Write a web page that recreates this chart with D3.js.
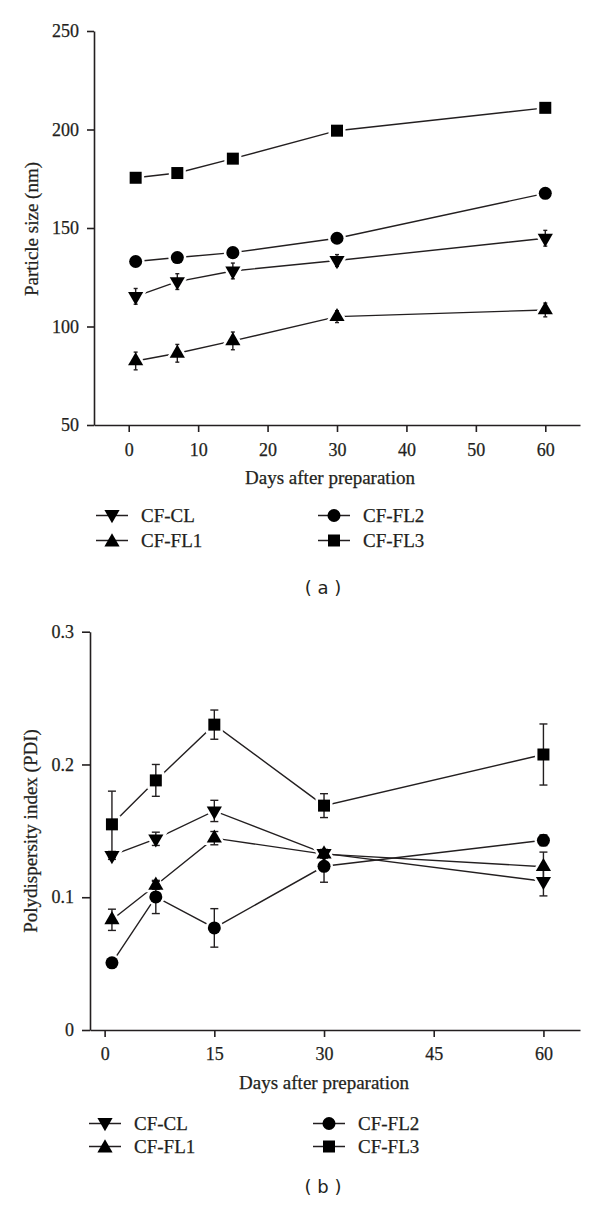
<!DOCTYPE html>
<html>
<head>
<meta charset="utf-8">
<script src="https://cdn.jsdelivr.net/npm/d3@7/dist/d3.min.js"></script>
<style>
  html, body { margin: 0; padding: 0; background: #fff; }
  svg { display: block; }
  .serif { font-family: "Liberation Serif", "Times New Roman", serif; fill: #231f20; stroke: #231f20; stroke-width: 0.25px; }
</style>
</head>
<body>
<svg id="chart" width="600" height="1208"></svg>
<script>
// ---------- DATA ----------
const days = [1, 7, 15, 30, 60];
const seriesNames = ["CF-CL", "CF-FL1", "CF-FL2", "CF-FL3"];

// Panel (a): particle size (nm)
const sizeCL  = [115.3, 122.8, 128.2, 133.5, 144.8];
const sizeFL1 = [82.5, 86.4, 92.7, 105.0, 108.4];
const sizeFL2 = [133, 135, 137.5, 144.8, 167.6];
const sizeFL3 = [175.5, 177.9, 185.2, 199.4, 211];
const sizeErrCL  = [4, 4, 4, 3, 4];
const sizeErrFL1 = [4.5, 4.5, 4.5, 3, 3.5];
const sizeErrFL2 = [1.5, 1.5, 1.5, 1.5, 1.5];
const sizeErrFL3 = [1.5, 1.5, 1.5, 1.5, 1.5];
const sizeTicksX = [0, 10, 20, 30, 40, 50, 60];
const sizeTicksY = [50, 100, 150, 200, 250];

// Panel (b): polydispersity index
const pdiCL  = [0.1315, 0.1440, 0.1650, 0.1330, 0.1120];
const pdiFL1 = [0.0830, 0.1090, 0.1445, 0.1325, 0.1230];
const pdiFL2 = [0.0506, 0.1002, 0.0769, 0.1233, 0.1429];
const pdiFL3 = [0.1549, 0.1880, 0.2300, 0.1690, 0.2075];
const pdiErrCL  = [0.003, 0.005, 0.008, 0.003, 0.011];
const pdiErrFL1 = [0.008, 0.003, 0.005, 0.003, 0.011];
const pdiErrFL2 = [0.001, 0.0125, 0.0145, 0.012, 0.004];
const pdiErrFL3 = [0.025, 0.012, 0.011, 0.009, 0.023];
const pdiTicksX = [0, 15, 30, 45, 60];
const pdiTicksY = [0, 0.1, 0.2, 0.3];

// ---------- DRAWING ----------
const svg = d3.select("#chart");
const SERIF = '"Liberation Serif", "Times New Roman", serif';

const symbolSpecs = {
  "CF-CL":  { type: d3.symbolTriangle, size: 100, rotate: 180 },
  "CF-FL1": { type: d3.symbolTriangle, size: 100, rotate: 0 },
  "CF-FL2": { type: d3.symbolCircle,   size: 133, rotate: 0 },
  "CF-FL3": { type: d3.symbolSquare,   size: 144, rotate: 0 }
};
function symPath(name) {
  const s = symbolSpecs[name];
  return d3.symbol().type(s.type).size(s.size)();
}

function drawPanel(cfg) {
  const g = svg.append("g");
  const x = d3.scaleLinear().domain(cfg.xDomain).range(cfg.xRange);
  const y = d3.scaleLinear().domain(cfg.yDomain).range(cfg.yRange);

  const xAxis = d3.axisBottom(x).tickValues(cfg.ticksX).tickSize(7).tickSizeOuter(0)
    .tickPadding(cfg.xPad).tickFormat(d3.format("d"));
  const yAxis = d3.axisLeft(y).tickValues(cfg.ticksY).tickSize(cfg.yTick).tickSizeOuter(0)
    .tickPadding(8).tickFormat(cfg.yFormat);

  const gx = g.append("g").attr("transform", `translate(0,${cfg.yRange[0]})`).call(xAxis);
  const gy = g.append("g").attr("transform", `translate(${cfg.xRange[0]},0)`).call(yAxis);
  [gx, gy].forEach(a => {
    a.attr("font-family", SERIF).attr("font-size", 18);
    a.select(".domain").attr("stroke", "#231f20").attr("stroke-width", 1.6);
    a.selectAll(".tick line").attr("stroke", "#231f20").attr("stroke-width", 1.6);
    a.selectAll(".tick text").attr("class", "serif")
      .style("font-family", SERIF).style("font-size", "18px").attr("fill", "#231f20");
  });

  g.append("text").attr("class", "serif").attr("font-size", 19)
    .attr("x", cfg.xTitlePos[0]).attr("y", cfg.xTitlePos[1]).attr("text-anchor", "middle")
    .text("Days after preparation");
  g.append("text").attr("class", "serif").attr("font-size", 19)
    .attr("transform", `translate(${cfg.yTitlePos[0]},${cfg.yTitlePos[1]}) rotate(-90)`)
    .attr("text-anchor", "middle").attr("dominant-baseline", "central")
    .text(cfg.yTitle);

  const series = seriesNames.map((n, i) => ({
    name: n,
    pts: days.map((d, j) => ({ d, v: cfg.values[i][j], e: cfg.errors[i][j] }))
  }));

  const line = d3.line().x(p => x(p.d)).y(p => y(p.v));
  const lineG = g.append("g");
  const haloG = g.append("g");
  const errG = g.append("g");
  const markG = g.append("g");

  series.forEach(s => {
    lineG.append("path").datum(s.pts).attr("d", line)
      .attr("fill", "none").attr("stroke", "#231f20").attr("stroke-width", 1.4);
    const sp = symbolSpecs[s.name];
    haloG.selectAll(null).data(s.pts).join("path")
      .attr("d", symPath(s.name))
      .attr("transform", p => `translate(${x(p.d)},${y(p.v)}) rotate(${sp.rotate})`)
      .attr("fill", "#fff").attr("stroke", "#fff").attr("stroke-width", 5);
    s.pts.forEach(p => {
      const cx = x(p.d), y1 = y(p.v + p.e), y2 = y(p.v - p.e);
      errG.append("line").attr("x1", cx).attr("x2", cx).attr("y1", y1).attr("y2", y2)
        .attr("stroke", "#231f20").attr("stroke-width", 1.4);
      [y1, y2].forEach(yy => errG.append("line")
        .attr("x1", cx - cfg.cap).attr("x2", cx + cfg.cap).attr("y1", yy).attr("y2", yy)
        .attr("stroke", "#231f20").attr("stroke-width", 1.4));
    });
    markG.selectAll(null).data(s.pts).join("path")
      .attr("d", symPath(s.name))
      .attr("transform", p => `translate(${x(p.d)},${y(p.v)}) rotate(${sp.rotate})`)
      .attr("fill", "#000");
  });

  const leg = g.append("g");
  cfg.legend.forEach((L, i) => {
    const name = seriesNames[i];
    const sp = symbolSpecs[name];
    const cy = L.baseline - 6.5;
    leg.append("line").attr("x1", L.x).attr("x2", L.x + 32).attr("y1", cy).attr("y2", cy)
      .attr("stroke", "#231f20").attr("stroke-width", 1.5);
    leg.append("path").attr("d", symPath(name))
      .attr("transform", `translate(${L.x + 16},${cy + (sp.type === d3.symbolTriangle ? (sp.rotate ? -1 : 1.5) : 0)}) rotate(${sp.rotate})`)
      .attr("fill", "#000");
    leg.append("text").attr("class", "serif").attr("font-size", 19)
      .attr("x", L.x + 45).attr("y", L.baseline).text(name);
  });

  g.append("text").attr("x", 323).attr("y", cfg.labelY)
    .attr("text-anchor", "middle").attr("dominant-baseline", "central")
    .attr("font-family", "DejaVu Sans, sans-serif").attr("font-size", 18).attr("fill", "#231f20")
    .text(cfg.label);
}

drawPanel({
  xDomain: [-5, 65], xRange: [94, 580],
  yDomain: [50, 250], yRange: [425, 31],
  ticksX: sizeTicksX, ticksY: sizeTicksY, yTick: 7, xPad: 11,
  yFormat: d3.format("d"),
  yTitle: "Particle size (nm)", yTitlePos: [31, 229], xTitlePos: [330, 484],
  values: [sizeCL, sizeFL1, sizeFL2, sizeFL3],
  errors: [sizeErrCL, sizeErrFL1, sizeErrFL2, sizeErrFL3],
  cap: 2,
  legend: [{ x: 96, baseline: 522 }, { x: 96, baseline: 547 }, { x: 318, baseline: 522 }, { x: 318, baseline: 547 }],
  label: "( a )", labelY: 587
});

drawPanel({
  xDomain: [-2, 65], xRange: [90, 580],
  yDomain: [0, 0.3], yRange: [1030, 631.7],
  ticksX: pdiTicksX, ticksY: pdiTicksY, yTick: 8, xPad: 10,
  yFormat: d => d === 0 ? "0" : d3.format(".1f")(d),
  yTitle: "Polydispersity index (PDI)", yTitlePos: [30, 831], xTitlePos: [324, 1089],
  values: [pdiCL, pdiFL1, pdiFL2, pdiFL3],
  errors: [pdiErrCL, pdiErrFL1, pdiErrFL2, pdiErrFL3],
  cap: 4,
  legend: [{ x: 89, baseline: 1130 }, { x: 89, baseline: 1153 }, { x: 313, baseline: 1130 }, { x: 313, baseline: 1153 }],
  label: "( b )", labelY: 1186
});
</script>
</body>
</html>
